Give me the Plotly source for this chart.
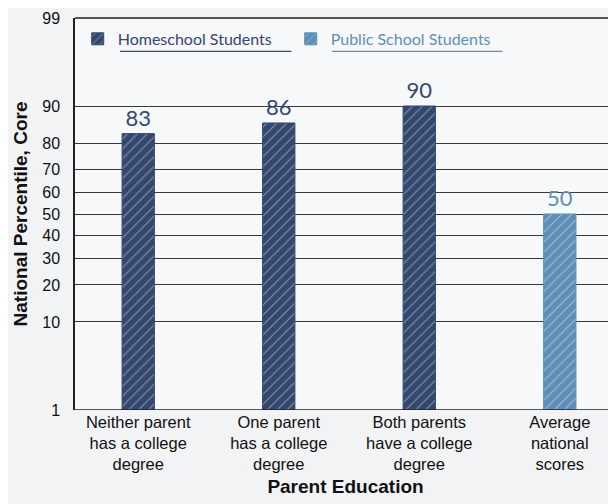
import plotly.graph_objects as go
from statistics import NormalDist

categories = ["Neither parent<br>has a college<br>degree", "One parent<br>has a college<br>degree",
              "Both parents<br>have a college<br>degree", "Average<br>national<br>scores"]
home_values = [83, 86, 90]
public_values = [50]
tick_values = [1, 10, 20, 30, 40, 50, 60, 70, 80, 90, 99]

nd = NormalDist()
def z(p):
    return nd.inv_cdf(p / 100.0)

zmin, zmax = z(1), z(99)
navy = "#34476f"
lightblue = "#5f8fb6"
hand_font = "Lato"

fig = go.Figure()
fig.add_trace(go.Bar(
    x=[0, 1, 2], y=[z(v) - zmin for v in home_values], base=zmin,
    name="Homeschool Students", width=0.23,
    marker=dict(color=navy, line=dict(color=navy, width=1),
                pattern=dict(shape="/", fgcolor="rgba(255,255,255,0.85)", size=7, solidity=0.15)),
    text=[str(v) for v in home_values], textposition="outside",
    textfont=dict(family=hand_font, size=22, color=navy), cliponaxis=False,
))
fig.add_trace(go.Bar(
    x=[3], y=[z(v) - zmin for v in public_values], base=zmin,
    name="<span style='color:#5f8fb6'>Public School Students</span>", width=0.23,
    marker=dict(color=lightblue, line=dict(color=lightblue, width=1),
                pattern=dict(shape="/", fgcolor="rgba(255,255,255,0.85)", size=7, solidity=0.15)),
    text=[str(v) for v in public_values], textposition="outside",
    textfont=dict(family=hand_font, size=22, color=lightblue), cliponaxis=False,
))

fig.update_layout(
    width=608, height=496,
    paper_bgcolor="#f2f3f5", plot_bgcolor="#f7f8f9",
    margin=dict(l=67, r=0, t=10, b=94, autoexpand=False),
    barmode="overlay",
    showlegend=True,
    legend=dict(orientation="h", x=0.005, y=0.99, xanchor="left", yanchor="top",
                bgcolor="rgba(0,0,0,0)", font=dict(family=hand_font, size=16, color=navy),
                itemwidth=30, entrywidth=168),
    xaxis=dict(range=[-0.45, 3.4], tickvals=[0, 1, 2, 3], ticktext=categories,
               showgrid=False, zeroline=False, showline=False, ticks="", automargin=False,
               tickfont=dict(family="Liberation Sans, Arial", size=16.5, color="#111"),
               title=dict(text="<b>Parent Education</b>", standoff=7,
                          font=dict(family="Liberation Sans Narrow, Liberation Sans", size=19, color="#111"))),
    yaxis=dict(range=[zmin, zmax], tickvals=[z(v) for v in tick_values],
               ticktext=[str(v) for v in tick_values], automargin=False,
               ticklabelstandoff=10,
               showgrid=True, gridcolor="#3a3a3a", gridwidth=1, zeroline=False,
               showline=True, linecolor="#222", linewidth=1.5, ticks="",
               tickfont=dict(family="Liberation Sans, Arial", size=16, color="#111"),
               title=dict(text="<b>National Percentile, Core</b>", standoff=10,
                          font=dict(family="Liberation Sans Narrow, Liberation Sans", size=19, color="#111"))),
)

# bottom axis line at 1, top frame and legend underlines
fig.add_shape(type="line", xref="paper", yref="y", x0=0, x1=1, y0=zmin, y1=zmin,
              line=dict(color="#222", width=1.5))
fig.add_shape(type="line", xref="paper", yref="paper", x0=0, x1=1, y0=1, y1=1,
              line=dict(color="#222", width=1.5))
fig.add_shape(type="line", xref="paper", yref="paper", x0=0.083, x1=0.40, y0=0.915, y1=0.915,
              line=dict(color=navy, width=1.3))
fig.add_shape(type="line", xref="paper", yref="paper", x0=0.475, x1=0.79, y0=0.915, y1=0.915,
              line=dict(color=lightblue, width=1.3))

fig.write_html("out.html")
